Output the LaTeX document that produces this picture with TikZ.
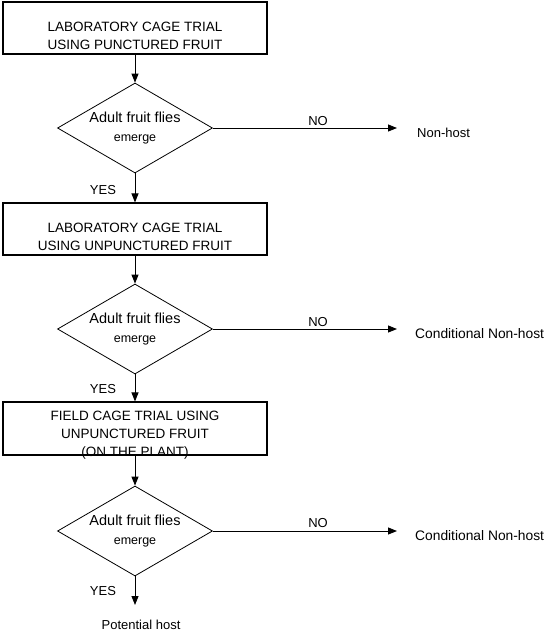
\documentclass[tikz,border=0pt]{standalone}
\usepackage{fontspec}
\setmainfont{Liberation Sans}
\usetikzlibrary{arrows.meta,shapes.geometric}

\begin{document}
\begin{tikzpicture}[
x=1pt,y=-1pt,
TrialBox/.style={draw,line width=1.1pt,rectangle,minimum width=264pt,minimum height=52pt,inner sep=0pt},
TrialText/.style={align=center,inner sep=0pt,font=\fontsize{13.5}{18}\selectfont},
Decision/.style={draw,line width=0.8pt,diamond,aspect=1.72,minimum width=155pt,minimum height=90pt,inner sep=0pt,align=center,font=\fontsize{13}{19}\selectfont},
Flow/.style={draw,line width=0.9pt,-{Triangle[length=9pt,width=7pt]}},
Answer/.style={inner sep=0pt,font=\fontsize{13}{16}\selectfont}
]
\useasboundingbox (0,0) rectangle (550,635);

% trial boxes
\node[TrialBox] (box1) at (135,28) {};
\node[TrialText] (txt1) at (135,36) {LABORATORY CAGE TRIAL\\USING PUNCTURED FRUIT};

\node[TrialBox] (box2) at (135,229) {};
\node[TrialText] (txt2) at (135,237) {LABORATORY CAGE TRIAL\\USING UNPUNCTURED FRUIT};

\node[TrialBox,minimum height=53pt] (box3) at (135,428.5) {};
\node[TrialText] (txt3) at (135,435) {FIELD CAGE TRIAL USING\\UNPUNCTURED FRUIT\\(ON THE PLANT)};

% decisions
\node[Decision] (dec1) at (135,128) {{\fontsize{14.5}{19}\selectfont Adult fruit flies}\\{\fontsize{12.5}{19}\selectfont emerge}};
\node[Decision] (dec2) at (135,329) {{\fontsize{14.5}{19}\selectfont Adult fruit flies}\\{\fontsize{12.5}{19}\selectfont emerge}};
\node[Decision] (dec3) at (135,531) {{\fontsize{14.5}{19}\selectfont Adult fruit flies}\\{\fontsize{12.5}{19}\selectfont emerge}};

% outcomes
\coordinate (no1) at (397,128);
\coordinate (no2) at (397,329);
\coordinate (no3) at (397,531);
\coordinate (yes3) at (135,605);

\node[Answer,anchor=west] (out1) at (417,133) {Non-host};
\node[Answer,anchor=west,font=\fontsize{13.8}{16}\selectfont] (out2) at (415,334) {Conditional Non-host};
\node[Answer,anchor=west,font=\fontsize{13.8}{16}\selectfont] (out3) at (415,536) {Conditional Non-host};
\node[Answer] (out4) at (141,625) {Potential host};

% connectors
\draw[Flow] (box1.south) -- (dec1.north);
\draw[Flow] (dec1.south) -- (box2.north);
\draw[Flow] (box2.south) -- (dec2.north);
\draw[Flow] (dec2.south) -- (box3.north);
\draw[Flow] (box3.south) -- (dec3.north);
\draw[Flow] (dec3.south) -- (yes3);

\draw[Flow] (dec1.east) -- (no1);
\draw[Flow] (dec2.east) -- (no2);
\draw[Flow] (dec3.east) -- (no3);

% branch labels
\node[Answer] (lno1) at (318,121) {NO};
\node[Answer] (lno2) at (318,322) {NO};
\node[Answer] (lno3) at (318,523) {NO};

\node[Answer] (lyes1) at (103,190) {YES};
\node[Answer] (lyes2) at (103,389) {YES};
\node[Answer] (lyes3) at (103,591) {YES};

\end{tikzpicture}
\end{document}
